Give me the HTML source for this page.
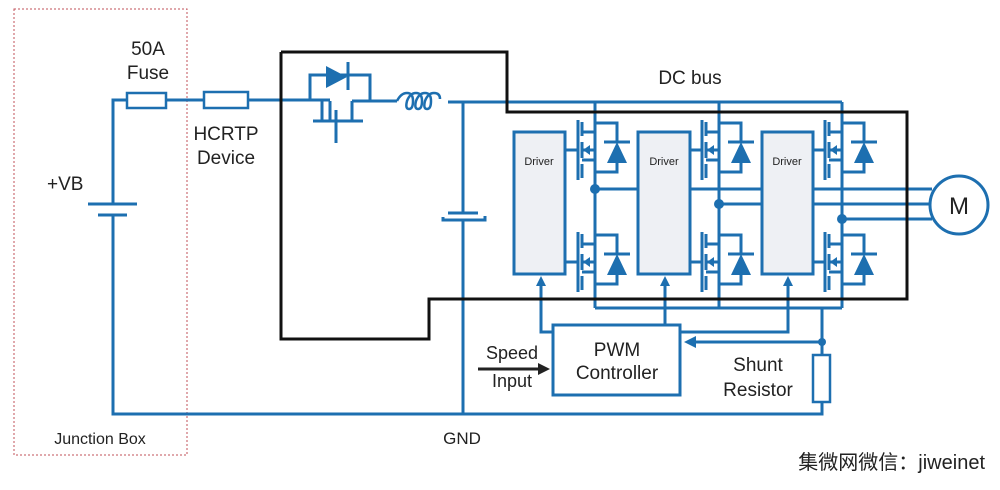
<!DOCTYPE html>
<html><head><meta charset="utf-8"><style>
body{margin:0;background:#fff;}
svg{display:block;}
text{font-family:"Liberation Sans","Noto Sans CJK SC",sans-serif;fill:#222;}
</style></head><body>
<svg width="1000" height="490" viewBox="0 0 1000 490" xmlns="http://www.w3.org/2000/svg">
<defs>
<g id="fet" stroke="#1d6fb0" stroke-width="3" fill="none">
  <line x1="-17" y1="0" x2="-17" y2="60"/>
  <line x1="-13" y1="2" x2="-13" y2="16"/>
  <line x1="-13" y1="22" x2="-13" y2="38"/>
  <line x1="-13" y1="44" x2="-13" y2="58"/>
  <line x1="-13" y1="12" x2="0" y2="12"/>
  <line x1="-13" y1="40" x2="0" y2="40"/>
  <line x1="-13" y1="30" x2="0" y2="30"/>
  <polygon points="-12,30 -5,25 -5,35" fill="#1d6fb0" stroke="none"/>
  <polyline points="0,3 22,3 22,22"/>
  <line x1="9" y1="22" x2="35" y2="22" />
  <polygon points="22,22 12,43 32,43" fill="#1d6fb0" stroke="none"/>
  <polyline points="22,43 22,52 0,52"/>
</g>
</defs>
<!-- junction box -->
<rect x="14" y="9" width="173" height="446" fill="none" stroke="#c0505a" stroke-width="1" stroke-dasharray="2,2"/>
<g stroke="#1d6fb0" stroke-width="3" fill="none">
  <!-- top wire -->
  <polyline points="113,204 113,100 127,100"/>
  <line x1="166" y1="100" x2="204" y2="100"/>
  <line x1="248" y1="100" x2="310" y2="100"/>
  <rect x="127" y="93" width="39" height="15" stroke-width="2.5"/>
  <rect x="204" y="92" width="44" height="16" stroke-width="2.5"/>
  <line x1="88" y1="204" x2="137" y2="204"/>
  <line x1="98" y1="215" x2="127" y2="215"/>
  <polyline points="113,215 113,414 822,414 822,402"/>
  <!-- mosfet reverse protection -->
  <polyline points="310,100 310,75 370,75 370,100"/>
  <polygon points="326,66 326,88 347,77" fill="#1d6fb0" stroke="none"/>
  <line x1="348" y1="62" x2="348" y2="90"/>
  <line x1="310" y1="100" x2="330" y2="100"/>
  <line x1="322" y1="101" x2="322" y2="120"/>
  <line x1="330" y1="101" x2="330" y2="120"/>
  <line x1="352" y1="101" x2="352" y2="120"/>
  <line x1="352" y1="101" x2="370" y2="101"/>
  <line x1="313" y1="121" x2="363" y2="121"/>
  <line x1="336" y1="110" x2="336" y2="143"/>
  <line x1="370" y1="101" x2="397" y2="101"/>
  <!-- inductor -->
  <path d="M397,101 q4,-8 10,-8 q6,0 6,8 q0,8 -4,8 q-4,0 -2,-8 q3,-8 9,-8 q6,0 6,8 q0,8 -4,8 q-4,0 -2,-8 q3,-8 9,-8 q6,0 6,8 q0,8 -4,8 q-4,0 -2,-8 q3,-8 9,-8 q6,0 6,6" stroke-width="2.5"/>
  <line x1="448" y1="102" x2="505" y2="102"/>
  <polyline points="505,102 842,102"/>
  <!-- capacitor -->
  <line x1="463" y1="102" x2="463" y2="212"/>
  <line x1="448" y1="213" x2="478" y2="213"/>
  <polyline points="443,217 443,220 485,220 485,216"/>
  <line x1="463" y1="220" x2="463" y2="414"/>
  <!-- drains / phase verticals -->
  <line x1="595" y1="102" x2="595" y2="308"/>
  <line x1="719" y1="102" x2="719" y2="308"/>
  <line x1="842" y1="102" x2="842" y2="308"/>
  <line x1="595" y1="308" x2="842" y2="308"/>
  <!-- phase outputs -->
  <line x1="595" y1="189" x2="932" y2="189"/>
  <line x1="719" y1="204" x2="929" y2="204"/>
  <line x1="842" y1="219" x2="932" y2="219"/>
  <circle cx="959" cy="205" r="29" fill="#fff"/>
  <!-- drivers -->
  <rect x="514" y="132" width="51" height="142" fill="#eef0f4"/>
  <rect x="638" y="132" width="52" height="142" fill="#eef0f4"/>
  <rect x="762" y="132" width="51" height="142" fill="#eef0f4"/>
  <!-- gate leads -->
  <line x1="565" y1="150" x2="578" y2="150"/>
  <line x1="565" y1="262" x2="578" y2="262"/>
  <line x1="690" y1="150" x2="702" y2="150"/>
  <line x1="690" y1="262" x2="702" y2="262"/>
  <line x1="813" y1="150" x2="825" y2="150"/>
  <line x1="813" y1="262" x2="825" y2="262"/>
  <!-- PWM -->
  <rect x="553" y="325" width="127" height="70" fill="#fff"/>
  <polyline points="553,332 541,332 541,282"/>
  <line x1="665" y1="325" x2="665" y2="282"/>
  <polyline points="680,332 788,332 788,282"/>
  <polyline points="822,308 822,355"/>
  <line x1="822" y1="342" x2="695" y2="342"/>
  <rect x="813" y="355" width="17" height="47" fill="#fff" stroke-width="2.5"/>
</g>
<g fill="#1d6fb0">
  <circle cx="595" cy="189" r="5"/><circle cx="719" cy="204" r="5"/><circle cx="842" cy="219" r="5"/>
  <circle cx="822" cy="342" r="4"/>
  <polygon points="541,276 536,286 546,286"/>
  <polygon points="665,276 660,286 670,286"/>
  <polygon points="788,276 783,286 793,286"/>
  <polygon points="684,342 696,336 696,348"/>
</g>
<use href="#fet" x="595" y="120"/><use href="#fet" x="595" y="232"/>
<use href="#fet" x="719" y="120"/><use href="#fet" x="719" y="232"/>
<use href="#fet" x="842" y="120"/><use href="#fet" x="842" y="232"/>
<!-- black outline -->
<polyline points="281,52 507,52 507,112 907,112 907,299 429,299 429,339 281,339 281,52" fill="none" stroke="#111" stroke-width="3"/>
<!-- speed arrow -->
<line x1="478" y1="369" x2="540" y2="369" stroke="#222" stroke-width="3"/>
<polygon points="550,369 538,363 538,375" fill="#222"/>
<!-- texts -->
<text x="148" y="55" font-size="19" text-anchor="middle">50A</text>
<text x="148" y="79" font-size="19" text-anchor="middle">Fuse</text>
<text x="226" y="140" font-size="19" text-anchor="middle">HCRTP</text>
<text x="226" y="164" font-size="19" text-anchor="middle">Device</text>
<text x="47" y="190" font-size="19">+VB</text>
<text x="690" y="84" font-size="19" text-anchor="middle">DC bus</text>
<text x="539" y="165" font-size="11" text-anchor="middle">Driver</text>
<text x="664" y="165" font-size="11" text-anchor="middle">Driver</text>
<text x="787" y="165" font-size="11" text-anchor="middle">Driver</text>
<text x="959" y="214" font-size="24" text-anchor="middle">M</text>
<text x="617" y="356" font-size="19" text-anchor="middle">PWM</text>
<text x="617" y="379" font-size="19" text-anchor="middle">Controller</text>
<text x="512" y="359" font-size="18" text-anchor="middle">Speed</text>
<text x="512" y="387" font-size="18" text-anchor="middle">Input</text>
<text x="758" y="371" font-size="19" text-anchor="middle">Shunt</text>
<text x="758" y="396" font-size="19" text-anchor="middle">Resistor</text>
<text x="462" y="444" font-size="17" text-anchor="middle">GND</text>
<text x="100" y="444" font-size="16" text-anchor="middle">Junction Box</text>
<text x="985" y="469" font-size="20" text-anchor="end">集微网微信：jiweinet</text>
</svg>
</body></html>
